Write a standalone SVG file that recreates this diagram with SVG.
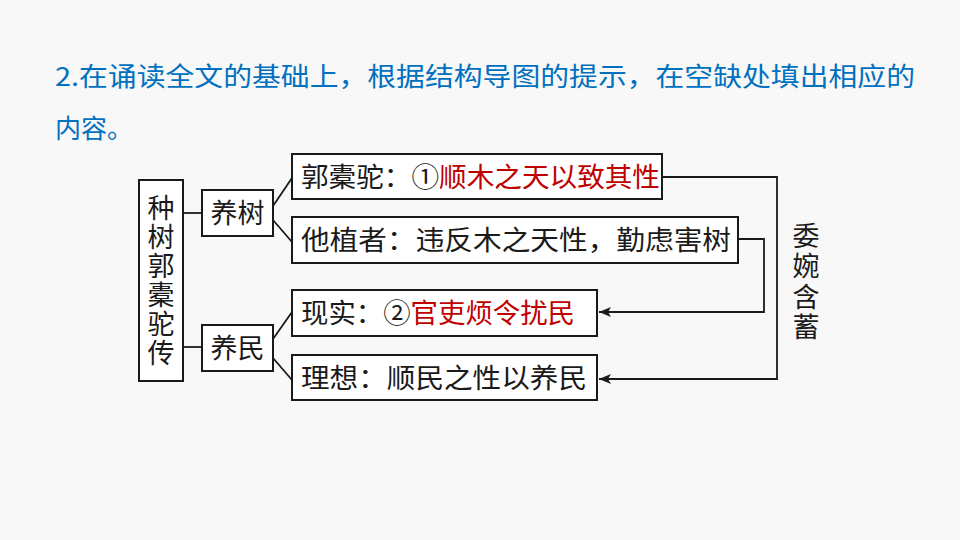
<svg xmlns="http://www.w3.org/2000/svg" width="960" height="540" viewBox="0 0 960 540">
<style>
  .bg{fill:#f8f8f8}
  .box{fill:#ffffff;stroke:#1a1a1a;stroke-width:2}
  .t{font-family:"Noto Sans CJK SC","Noto Sans",sans-serif;font-size:27px;fill:#1a1a1a}
  .v{writing-mode:vertical-rl;text-orientation:upright}
  .red{fill:#c00000}
  .title{font-family:"Noto Sans CJK SC","Noto Sans",sans-serif;font-size:26px;fill:#0070c0}
  .ln{fill:none;stroke:#1a1a1a;stroke-width:1.8}
</style>
<defs>
  <marker id="arr" viewBox="0 0 12 10" refX="12" refY="5" markerWidth="12" markerHeight="10" markerUnits="userSpaceOnUse" orient="auto">
    <path d="M12,5 L0,0 L3,5 L0,10 Z" fill="#1a1a1a"/>
  </marker>
</defs>
<rect class="bg" x="0" y="0" width="960" height="540"/>

<g id="title">
  <text class="title" x="55" y="86" textLength="860" lengthAdjust="spacingAndGlyphs">2.在诵读全文的基础上，根据结构导图的提示，在空缺处填出相应的</text>
  <text class="title" x="55" y="138">内容。</text>
</g>

<g id="connectors">
  <line class="ln" x1="183" y1="213" x2="202" y2="213"/>
  <line class="ln" x1="183" y1="347" x2="202" y2="347"/>
  <line class="ln" x1="273" y1="206" x2="292" y2="178"/>
  <line class="ln" x1="273" y1="220" x2="292" y2="242"/>
  <line class="ln" x1="273" y1="339" x2="292" y2="312"/>
  <line class="ln" x1="273" y1="358" x2="292" y2="380"/>
  <polyline class="ln" points="662,177 777,177 777,379 599,379" marker-end="url(#arr)"/>
  <polyline class="ln" points="738,239 764,239 764,312 599,312" marker-end="url(#arr)"/>
</g>

<g id="root">
  <rect class="box" x="139" y="180" width="44" height="201"/>
  <text class="t v" x="161" y="194" font-size="28" letter-spacing="2">种树郭橐驼传</text>
</g>

<g id="n-yangshu">
  <rect class="box" x="202" y="190" width="71" height="46"/>
  <text class="t" x="237.5" y="223" text-anchor="middle">养树</text>
</g>

<g id="n-yangmin">
  <rect class="box" x="202" y="325" width="71" height="46"/>
  <text class="t" x="237.5" y="358" text-anchor="middle">养民</text>
</g>

<g id="n-guo">
  <rect class="box" x="292" y="154" width="370" height="45"/>
  <text class="t" x="301" y="187" textLength="359" lengthAdjust="spacingAndGlyphs">郭橐驼：①<tspan class="red">顺木之天以致其性</tspan></text>
</g>

<g id="n-ta">
  <rect class="box" x="292" y="217" width="446" height="46"/>
  <text class="t" x="301" y="250" textLength="430" lengthAdjust="spacingAndGlyphs">他植者：违反木之天性，勤虑害树</text>
</g>

<g id="n-xianshi">
  <rect class="box" x="292" y="290" width="305" height="46"/>
  <text class="t" x="301" y="323" textLength="274" lengthAdjust="spacingAndGlyphs">现实：②<tspan class="red">官吏烦令扰民</tspan></text>
</g>

<g id="n-lixiang">
  <rect class="box" x="292" y="355" width="305" height="45"/>
  <text class="t" x="301" y="388" textLength="286" lengthAdjust="spacingAndGlyphs">理想：顺民之性以养民</text>
</g>

<g id="side-label">
  <text class="t v" x="806" y="222" font-size="26" letter-spacing="3.5">委婉含蓄</text>
</g>
</svg>
